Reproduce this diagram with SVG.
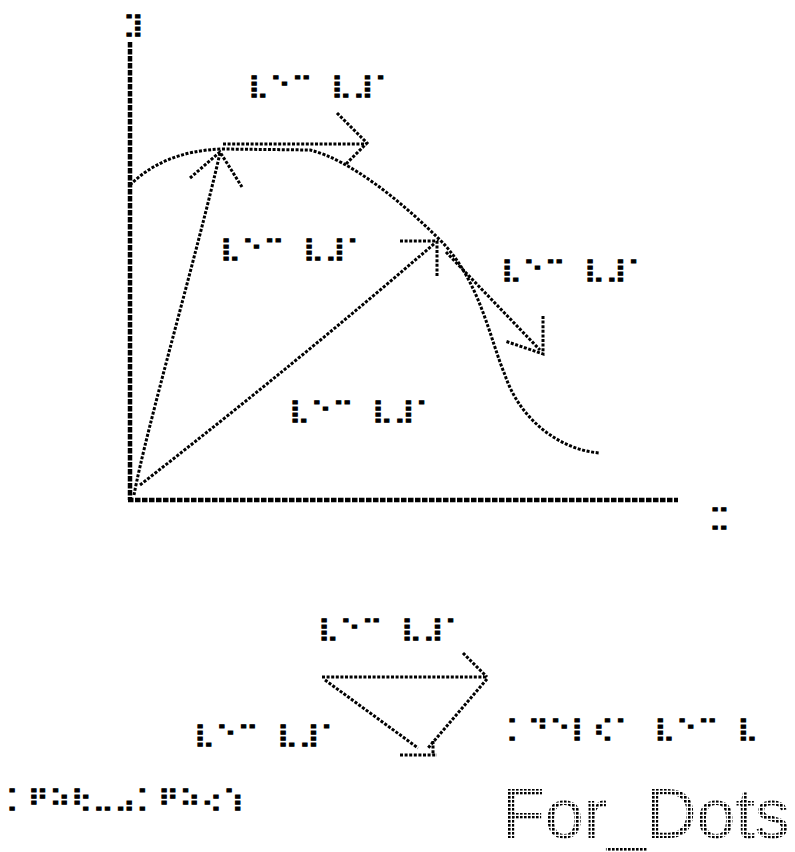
<svg xmlns="http://www.w3.org/2000/svg" width="795" height="852" viewBox="0 0 795 852">
<style>
.ln{fill:none;stroke:#000;stroke-width:3;stroke-dasharray:3 1.6}
.ax{fill:none;stroke:#000;stroke-width:4.5;stroke-dasharray:5.5 1.5}
.lb{font-family:"DejaVu Sans Mono","DejaVu Sans",monospace;font-size:22px;letter-spacing:0.59px;fill:#000;stroke:#000;stroke-width:1}
.big{font-family:"Liberation Sans",Arial,sans-serif;font-size:70px;fill:url(#dots)}
</style>
<defs>
<pattern id="dots" width="4" height="4" patternUnits="userSpaceOnUse"><rect width="2.6" height="2.6" fill="#000"/></pattern>
</defs>
<rect width="795" height="852" fill="#fff"/>
<g id="axes">
<path class="ax" d="M130 42 V500"/>
<path class="ax" d="M128 500 H678"/>
<text id="ylabel" class="lb" transform="translate(123 32) scale(1.3 1)">⣹</text>
<text id="xlabel" class="lb" transform="translate(709 525) scale(1.3 1)">⣉</text>
</g>
<g id="connectors">
<path id="bell" class="ln" d="M130 185 C150 165 180 150 223 149 L310 150 C350 160 400 200 440 240 C480 280 490 340 505 375 C520 420 560 450 600 453"/>
<path id="topArrow" class="ln" d="M223 144 H367 M337 113 L367 143 L345 165"/>
<path id="steep" class="ln" d="M134 495 C146 430 198 250 220 153"/>
<path id="steepHead" class="ln" d="M190 178 L220 152 L242 187"/>
<path id="lineC" class="ln" d="M140 485 Q300 360 435 243"/>
<path id="lineCHead" class="ln" d="M400 241 H437 V277"/>
<path id="lineD" class="ln" d="M446 252 L540 350"/>
<path id="lineDHead" class="ln" d="M543 316 V354 L505 341"/>
<path id="triTop" class="ln" d="M322 677 H487 M463 653 L487 677"/>
<path id="triRight" class="ln" d="M487 679 L428 748"/>
<path id="triLeft" class="ln" d="M325 680 L418 748"/>
<path id="triBottom" class="ln" d="M400 755 H437 M433 741 V755"/>
</g>
<g id="label1"><text class="lb" transform="translate(248 93) scale(1.3 1)">⣇⠑⠉ ⣇⣸⠁</text></g>
<g id="label2"><text class="lb" transform="translate(220 256) scale(1.3 1)">⣇⠑⠉ ⣇⣸⠁</text></g>
<g id="label3"><text class="lb" transform="translate(501 277) scale(1.3 1)">⣇⠑⠉ ⣇⣸⠁</text></g>
<g id="label4"><text class="lb" transform="translate(289 418) scale(1.3 1)">⣇⠑⠉ ⣇⣸⠁</text></g>
<g id="label5"><text class="lb" transform="translate(318 636) scale(1.3 1)">⣇⠑⠉ ⣇⣸⠁</text></g>
<g id="label6"><text class="lb" transform="translate(194 742) scale(1.3 1)">⣇⠑⠉ ⣇⣸⠁</text></g>
<g id="label7"><text class="lb" transform="translate(506 736) scale(1.3 1)">⡁⠙⠑⡇⢎⠁ ⣇⠑⠉ ⣇</text></g>
<g id="label8"><text class="lb" transform="translate(6 806) scale(1.3 1)">⡁⠟⠵⢗⣀⣠⡁⠟⠵⢔⢱</text></g>
<g id="title"><text class="big" x="502" y="838">For_Dots</text></g>
</svg>
